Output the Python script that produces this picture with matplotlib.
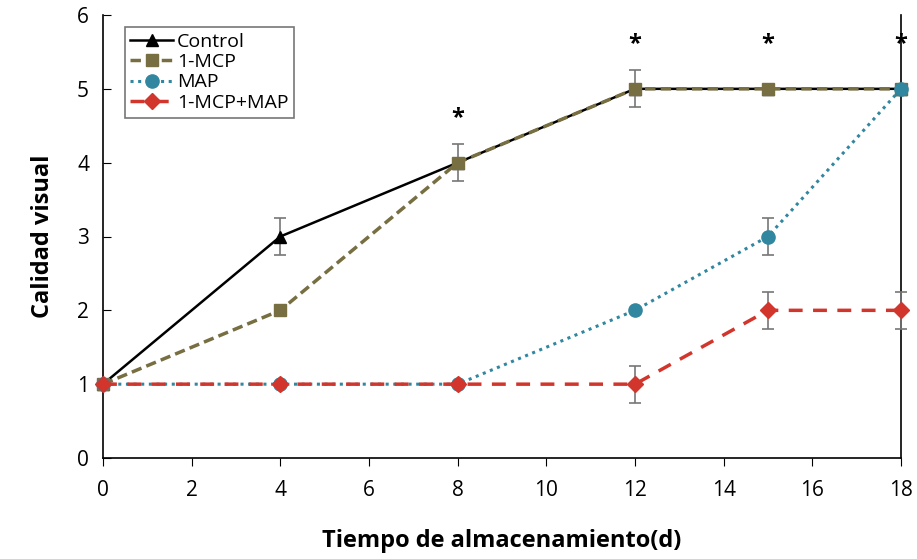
import numpy as np
import matplotlib
matplotlib.use("Agg")
import matplotlib.pyplot as plt

plt.rcParams['font.family'] = ['Open Sans', 'DejaVu Sans']

dias = [0, 4, 8, 12, 15, 18]
control = [1, 3, 4, 5, 5, 5]
mcp = [1, 2, 4, 5, 5, 5]
map_ = [1, 1, 1, 2, 3, 5]
mcp_map = [1, 1, 1, 1, 2, 2]

err_control = [0, 0.25, 0, 0, 0, 0]
err_mcp = [0, 0, 0.25, 0.25, 0.05, 0]
err_map = [0, 0, 0, 0, 0.25, 0]
err_mcp_map = [0, 0, 0, 0.25, 0.25, 0.25]

star_x = [8, 12, 15, 18]
star_y = [4.6, 5.6, 5.6, 5.6]

fig = plt.figure(figsize=(9.17, 5.59), dpi=100)
ax = fig.add_axes([103/917, 1 - 458/559, 798/917, 443/559])

eb = dict(ecolor='#777777', elinewidth=1.2, capsize=4, capthick=1.2)

series = [
    (control, err_control, 'black', 1.8, '-', '^', 9, 'Control'),
    (mcp, err_mcp, '#776e42', 2.5, (0, (3, 1.5)), 's', 9, '1-MCP'),
    (map_, err_map, '#31879f', 2.2, (0, (1, 1.5)), 'o', 9.5, 'MAP'),
    (mcp_map, err_mcp_map, '#d2352b', 2.5, (0, (4, 3)), 'D', 8.5, '1-MCP+MAP'),
]

handles = []
for i, (vals, err, col, lw, ls, mk, ms, lab) in enumerate(series):
    ax.errorbar(dias, vals, yerr=err, fmt='none', zorder=2 + i, clip_on=False, **eb)
    ln, = ax.plot(dias, vals, color=col, lw=lw, ls=ls, marker=mk, ms=ms,
                  label=lab, zorder=3 + i, clip_on=False)
    handles.append(ln)

for x, y in zip(star_x, star_y):
    ax.text(x, y, '*', ha='center', va='center', fontsize=17, fontweight='bold')

ax.set_xlim(0, 18)
ax.set_ylim(0, 6)
ax.set_xticks(np.arange(0, 19, 2))
ax.set_yticks(np.arange(0, 7, 1))
ax.spines['top'].set_visible(False)
for s in ['left', 'right', 'bottom']:
    ax.spines[s].set_linewidth(1.2)
ax.tick_params(axis='x', direction='out', length=6, labelsize=15, pad=10)
ax.tick_params(axis='y', direction='in', length=6, labelsize=15, pad=10)

ax.set_xlabel('Tiempo de almacenamiento(d)', fontsize=17, fontweight='bold', labelpad=20)
ax.set_ylabel('Calidad visual', fontsize=17, fontweight='bold', labelpad=16)

leg = ax.legend(handles=handles, loc='upper left', bbox_to_anchor=(0.027, 0.973),
                fontsize=14, frameon=True, fancybox=False, edgecolor='#555555',
                handlelength=2.2, handletextpad=0.2, labelspacing=0.12,
                borderpad=0.3, borderaxespad=0)
leg.get_frame().set_linewidth(1.2)

fig.savefig('out.png', dpi=100)
